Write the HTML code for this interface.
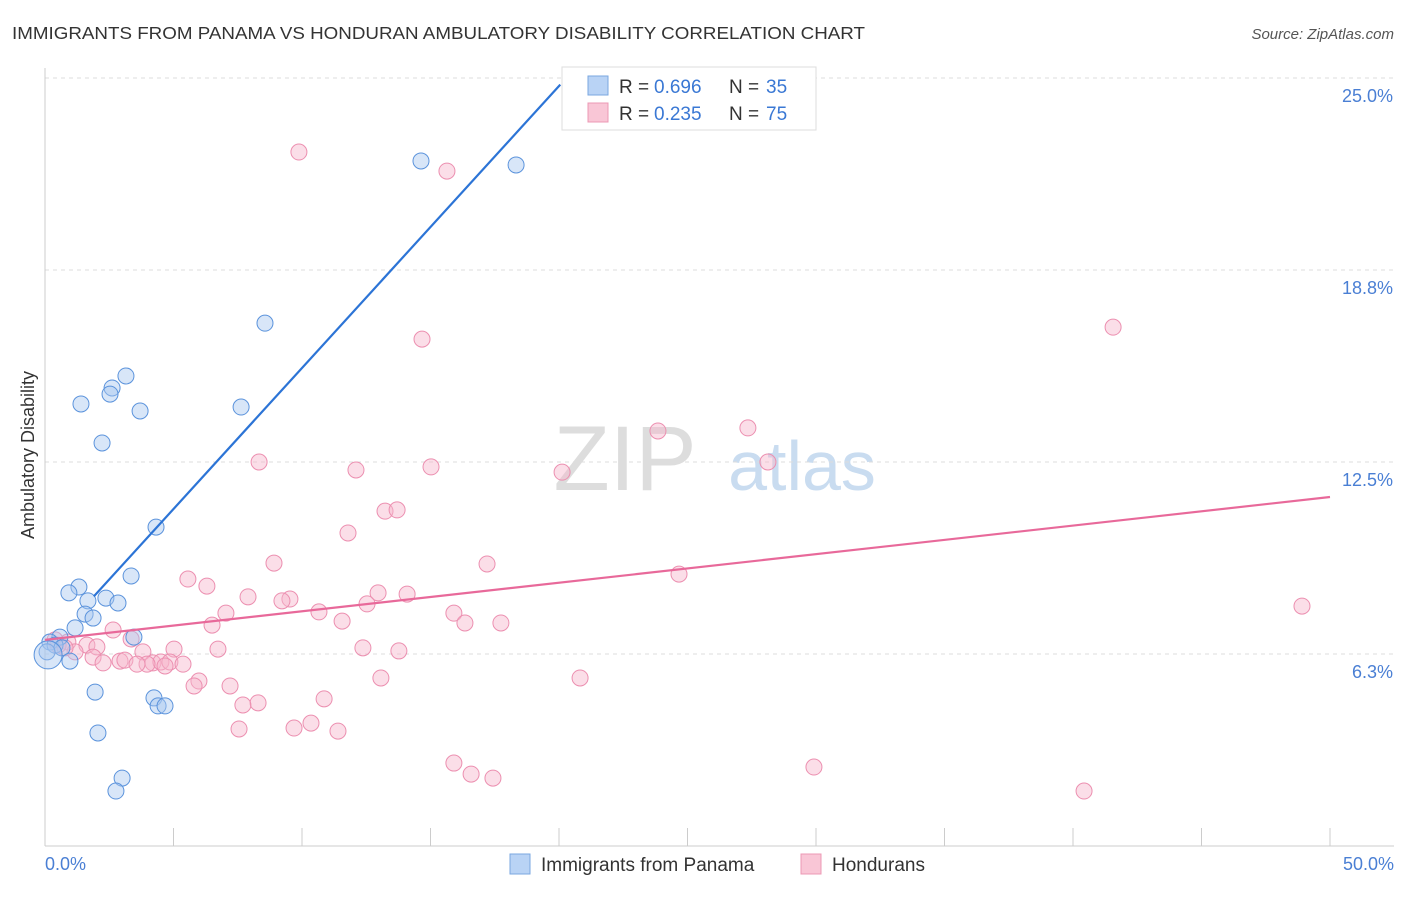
<!DOCTYPE html>
<html><head><meta charset="utf-8"><style>
body{margin:0;background:#fff;font-family:"Liberation Sans",sans-serif}
svg text{font-family:"Liberation Sans",sans-serif}
</style></head><body>
<svg width="1406" height="892" xmlns="http://www.w3.org/2000/svg">
<text x="12" y="39" font-size="17.5" fill="#333" textLength="853" lengthAdjust="spacingAndGlyphs">IMMIGRANTS FROM PANAMA VS HONDURAN AMBULATORY DISABILITY CORRELATION CHART</text>
<text x="1394" y="39" font-size="15" fill="#555" font-style="italic" text-anchor="end">Source: ZipAtlas.com</text>
<g><text x="625" y="490" font-size="92" fill="#ddd" font-family="Liberation Serif" text-anchor="middle">ZIP</text><text x="802" y="490" font-size="70" fill="#c9dcf0" text-anchor="middle">atlas</text></g>
<g id="grid"></g><g id="axes"></g><g id="marks"></g>
<text transform="translate(34,455) rotate(-90)" font-size="18" fill="#333" text-anchor="middle">Ambulatory Disability</text>
<text x="45" y="870" font-size="18" fill="#4a7fd4">0.0%</text>
<text x="1394" y="870" font-size="18" fill="#4a7fd4" text-anchor="end">50.0%</text>
<g>
<rect x="562" y="67" width="254" height="63" fill="#fff" stroke="#ddd"/>
<rect x="588" y="76" width="20" height="19" fill="#b9d3f5" stroke="#7aa7e0"/>
<rect x="588" y="103" width="20" height="19" fill="#f9c6d6" stroke="#ec98b4"/>
<text y="93" font-size="19" fill="#333"><tspan x="619">R =</tspan><tspan x="654" fill="#3a78d4">0.696</tspan><tspan x="729">N =</tspan><tspan x="766" fill="#3a78d4">35</tspan></text>
<text y="120" font-size="19" fill="#333"><tspan x="619">R =</tspan><tspan x="654" fill="#3a78d4">0.235</tspan><tspan x="729">N =</tspan><tspan x="766" fill="#3a78d4">75</tspan></text>
</g>
<g>
<rect x="510" y="854" width="20" height="20" fill="#b9d3f5" stroke="#7aa7e0"/>
<text x="541" y="871" font-size="19" fill="#333">Immigrants from Panama</text>
<rect x="801" y="854" width="20" height="20" fill="#f9c6d6" stroke="#ec98b4"/>
<text x="832" y="871" font-size="19" fill="#333">Hondurans</text>
</g>
</svg>
<script>
const yTicks=[6.25,12.5,18.75,25];
const yTickLabels=["6.3%","12.5%","18.8%","25.0%"];
const xTicks=[0,5,10,15,20,25,30,35,40,45,50];
const panamaX=[14.63,18.33,8.56,3.15,2.61,2.53,1.40,3.70,7.63,2.22,4.32,3.35,1.32,0.93,2.37,1.67,2.84,1.56,1.87,1.17,3.46,0.58,0.19,0.39,0.66,0.08,0.97,1.95,4.24,4.40,4.67,2.06,3.00,2.76,0.12];
const panamaY=[22.3,22.17,17.02,15.3,14.91,14.71,14.39,14.16,14.29,13.12,10.38,8.79,8.43,8.24,8.07,7.98,7.91,7.55,7.42,7.10,6.80,6.80,6.64,6.54,6.45,6.32,6.02,5.01,4.82,4.56,4.56,3.68,2.21,1.79,6.22];
const hondX=[9.88,15.64,41.56,14.67,23.85,27.35,8.33,12.10,15.02,20.12,28.13,13.23,13.70,11.79,8.91,17.20,24.67,5.56,6.30,12.96,7.90,9.53,9.22,14.09,12.53,10.66,7.04,15.91,48.91,6.50,11.56,16.34,17.74,2.65,3.35,0.89,1.63,0.51,2.02,5.02,6.73,12.37,13.77,3.81,1.17,1.87,2.92,3.11,4.20,4.51,4.86,5.37,3.97,3.58,2.26,4.67,5.99,5.80,7.20,13.07,20.82,10.86,8.29,7.70,10.35,7.55,9.69,11.40,15.91,16.58,17.43,29.92,40.43,0.39,0.78];
const hondY=[22.59,21.97,16.89,16.50,13.51,13.61,12.50,12.24,12.34,12.17,12.50,10.90,10.94,10.19,9.21,9.18,8.85,8.69,8.46,8.24,8.11,8.04,7.98,8.20,7.88,7.62,7.58,7.58,7.81,7.19,7.32,7.26,7.26,7.03,6.74,6.64,6.54,6.54,6.48,6.41,6.41,6.45,6.35,6.32,6.32,6.15,6.02,6.05,5.96,5.99,5.99,5.92,5.92,5.92,5.96,5.86,5.37,5.21,5.21,5.47,5.47,4.79,4.66,4.59,4.00,3.81,3.84,3.74,2.70,2.34,2.21,2.57,1.79,6.71,6.45];
const panamaTrend=[6.38,0.918,1.9,20.05];
const hondTrend=[6.71,0.093,0,50];
const NS="http://www.w3.org/2000/svg";
const X=v=>45+v*25.7, Y=v=>654-(v-6.25)*30.72;
function mk(t,a,p){const e=document.createElementNS(NS,t);for(const k in a)e.setAttribute(k,a[k]);document.getElementById(p).appendChild(e);return e;}
yTicks.forEach((t,i)=>{const l=mk('line',{x1:45,x2:1394,y1:Y(t),y2:Y(t),stroke:'#ddd','stroke-dasharray':'4,4'},'grid');


const tx=mk('text',{x:1393,y:Y(t)+24,'font-size':18,fill:'#4a7fd4','text-anchor':'end'},'grid');tx.textContent=yTickLabels[i];

});
const ax=mk('line',{x1:45,x2:1394,y1:846,y2:846,stroke:'#ccc'},'axes');


const ay=mk('line',{x1:45,x2:45,y1:68,y2:846,stroke:'#ccc'},'axes');


xTicks.forEach(t=>{const l=mk('line',{x1:X(t),x2:X(t),y1:828,y2:846,stroke:'#ccc'},'axes');

});
function pts(xs,ys,fill,stroke,name){xs.forEach((x,i)=>{const big=(name==='panama-point'&&i===xs.length-1);const c=mk('circle',{cx:X(x),cy:Y(ys[i]),r:big?14:8,fill:fill,'fill-opacity':0.45,stroke:stroke,'stroke-width':1},'marks');

});}
pts(hondX,hondY,'#f7b6cb','#ec8fb0','honduran-point');
pts(panamaX,panamaY,'#a9c8f0','#5b93dc','panama-point');
function trend(tr,col,name){const [b,m,x0,x1]=tr;const l=mk('line',{x1:X(x0),y1:Y(b+m*x0),x2:X(x1),y2:Y(b+m*x1),stroke:col,'stroke-width':2.2},'marks');

}
trend(hondTrend,'#e8699a','honduran-trendline');
trend(panamaTrend,'#2c74d6','panama-trendline');
</script>
</body></html>
